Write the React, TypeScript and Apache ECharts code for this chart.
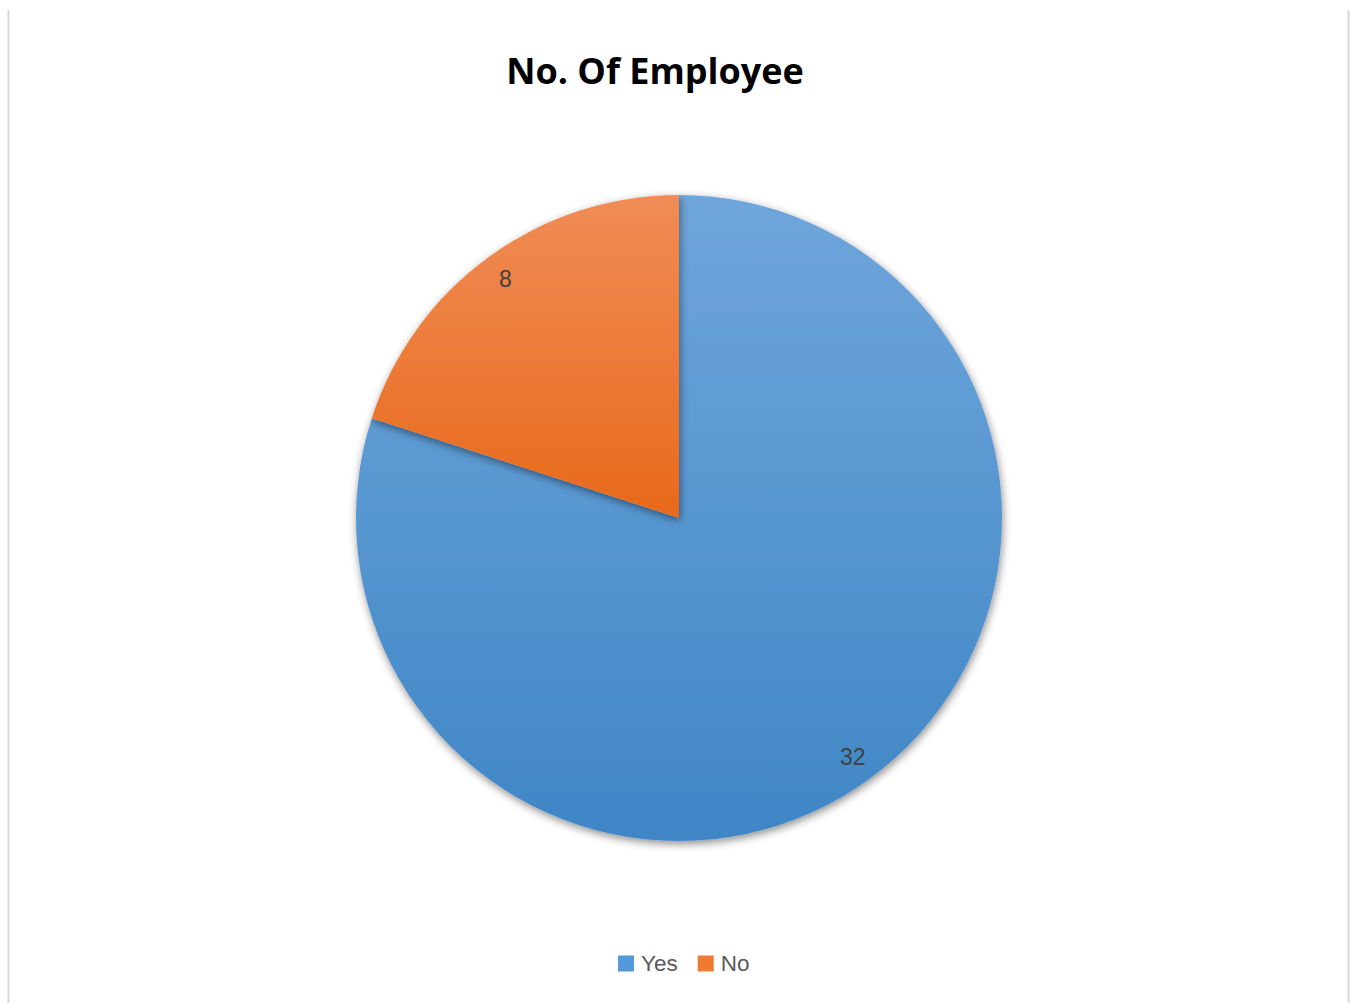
import React, { useEffect, useRef } from "react";
import * as echarts from "echarts";

const titleText = "No. Of Employee";
const categories = ["Yes", "No"];
const values = [32, 8];
const palette = [
  ["#6FA6DB", "#3F86C6"],
  ["#F08C56", "#E8691A"],
];
const legendColors = ["#5599D8", "#EF7A32"];

export default function App() {
  const ref = useRef<HTMLDivElement>(null);
  useEffect(() => {
    document.body.style.margin = "0";
    const chart = echarts.init(ref.current!, null, { renderer: "svg" });
    const grad = (i: number) =>
      new echarts.graphic.LinearGradient(0, 0, 0, 1, [
        { offset: 0, color: palette[i][0] },
        { offset: 1, color: palette[i][1] },
      ]);
    const data = categories.map((c, i) => ({
      name: c,
      value: values[i],
      itemStyle: { color: grad(i) },
    }));
    chart.setOption({
      animation: false,
      backgroundColor: "#ffffff",
      title: {
        text: titleText,
        left: 650,
        textAlign: "center",
        top: 47,
        textStyle: {
          fontFamily: "Open Sans",
          fontWeight: "bold",
          fontSize: 36,
          color: "#000000",
        },
      },
      legend: {
        left: 613,
        top: 947,
        icon: "rect",
        itemWidth: 16,
        itemHeight: 16,
        itemGap: 20,
        textStyle: {
          fontFamily: "Liberation Sans",
          fontSize: 22.5,
          color: "#595959",
          padding: [0, 0, 0, 2],
        },
        data: categories.map((c, i) => ({
          name: c,
          itemStyle: { color: legendColors[i] },
        })),
      },
      graphic: [
        { type: "line", shape: { x1: 8.5, y1: 10, x2: 8.5, y2: 1003 }, style: { stroke: "#d9d9d9", lineWidth: 2 } },
        { type: "line", shape: { x1: 1348.5, y1: 10, x2: 1348.5, y2: 1003 }, style: { stroke: "#d9d9d9", lineWidth: 2 } },
      ],
      series: [
        {
          type: "pie",
          center: [679, 518],
          radius: 323,
          startAngle: 90,
          clockwise: true,
          data,
          label: { show: false },
          labelLine: { show: false },
          itemStyle: {
            shadowBlur: 8,
            shadowOffsetY: 3,
            shadowOffsetX: 1,
            shadowColor: "rgba(0,0,0,0.45)",
          },
          emphasis: { disabled: true },
        },
        {
          type: "pie",
          center: [679, 518],
          radius: [262, 323],
          startAngle: 90,
          clockwise: true,
          silent: true,
          data: categories.map((c, i) => ({ name: c, value: values[i] })),
          itemStyle: { color: "rgba(0,0,0,0)" },
          label: {
            show: true,
            position: "inside",
            formatter: "{c}",
            fontFamily: "Liberation Sans",
            fontSize: 23,
            color: "#404040",
          },
          labelLine: { show: false },
          emphasis: { disabled: true },
        },
      ],
    });
    return () => chart.dispose();
  }, []);
  return <div ref={ref} style={{ width: 1351, height: 1003 }} />;
}
